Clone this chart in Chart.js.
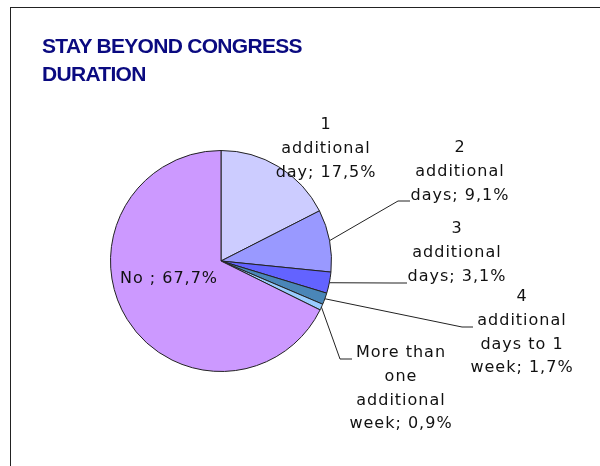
<!DOCTYPE html>
<html>
<head>
<meta charset="utf-8">
<script src="https://cdn.jsdelivr.net/npm/chart.js@4.4.1/dist/chart.umd.min.js"></script>
<style>
  html, body { margin: 0; padding: 0; background: #fff; }
  #wrap { position: relative; width: 600px; height: 466px; overflow: hidden; }
  #frame { position: absolute; left: 10px; top: 7px; width: 620px; height: 480px;
           border-top: 1.5px solid #222; border-left: 1.5px solid #222; }
  #title { position: absolute; left: 42px; top: 32px; color: #0a0a80;
           font-family: "Liberation Sans", Arial, sans-serif; font-weight: bold;
           font-size: 21px; line-height: 28px; letter-spacing: -0.7px; }
  canvas { position: absolute; left: 0; top: 0; }
</style>
</head>
<body>
<div id="wrap">
  <div id="frame"></div>
  <canvas id="c" width="600" height="466"></canvas>
  <div id="title">STAY BEYOND CONGRESS<br>DURATION</div>
</div>
<script>
// ---- data ----
// "\n" marks where the label text wraps in the reference
const categories = [
  "1\nadditional\nday",
  "2\nadditional\ndays",
  "3\nadditional\ndays",
  "4\nadditional\ndays to 1\nweek",
  "More than\none\nadditional\nweek",
  "No "
];
const values = [17.5, 9.1, 3.1, 1.7, 0.9, 67.7];
const colors = ["#ccccff", "#9999ff", "#6363ff", "#4a86b8", "#99ccff", "#cc99ff"];

// ---- label layout (annotation placement, not data) ----
const labelLayout = [
  { x: 326, y: 125 },
  { x: 460, y: 148, elbow: [398, 201], end: [410, 201] },
  { x: 457, y: 229, elbow: [392, 283], end: [407, 283] },
  { x: 522, y: 297, elbow: [462, 327], end: [473, 327] },
  { x: 401, y: 353, elbow: [340, 359], end: [352, 359] },
  { x: 169, y: 279 }
];

function fmt(v) { return v.toFixed(1).replace('.', ',') + '%'; }

const sliceLabels = {
  id: 'sliceLabels',
  afterDatasetsDraw(chart, args, opts) {
    const ctx = chart.ctx;
    const meta = chart.getDatasetMeta(0);
    const data = chart.data.datasets[0].data;
    ctx.save();
    ctx.font = opts.font;
    ctx.letterSpacing = opts.letterSpacing;
    ctx.textAlign = 'center';
    ctx.textBaseline = 'middle';
    meta.data.forEach((arc, i) => {
      const L = opts.layout[i];
      const lines = (chart.data.labels[i] + '; ' + fmt(data[i])).split('\n');
      if (L.elbow) {
        const mid = (arc.startAngle + arc.endAngle) / 2;
        const sx = arc.x + Math.cos(mid) * arc.outerRadius;
        const sy = arc.y + Math.sin(mid) * arc.outerRadius;
        ctx.beginPath();
        ctx.moveTo(sx, sy);
        ctx.lineTo(L.elbow[0], L.elbow[1]);
        ctx.lineTo(L.end[0], L.end[1]);
        ctx.strokeStyle = '#222';
        ctx.lineWidth = 1;
        ctx.stroke();
      }
      ctx.fillStyle = '#111';
      lines.forEach((ln, k) => ctx.fillText(ln, L.x, L.y + k * opts.lineHeight));
    });
    ctx.restore();
  }
};

new Chart(document.getElementById('c'), {
  type: 'pie',
  data: {
    labels: categories,
    datasets: [{
      data: values,
      backgroundColor: colors,
      borderColor: '#222',
      borderWidth: 1
    }]
  },
  options: {
    responsive: false,
    animation: false,
    layout: { padding: { left: 110, right: 268, top: 150, bottom: 94 } },
    plugins: {
      legend: { display: false },
      tooltip: { enabled: false },
      title: { display: false },
      sliceLabels: {
        layout: labelLayout,
        font: '16px "DejaVu Sans", sans-serif',
        letterSpacing: '1px',
        lineHeight: 23.7
      }
    }
  },
  plugins: [sliceLabels]
});
</script>
</body>
</html>
